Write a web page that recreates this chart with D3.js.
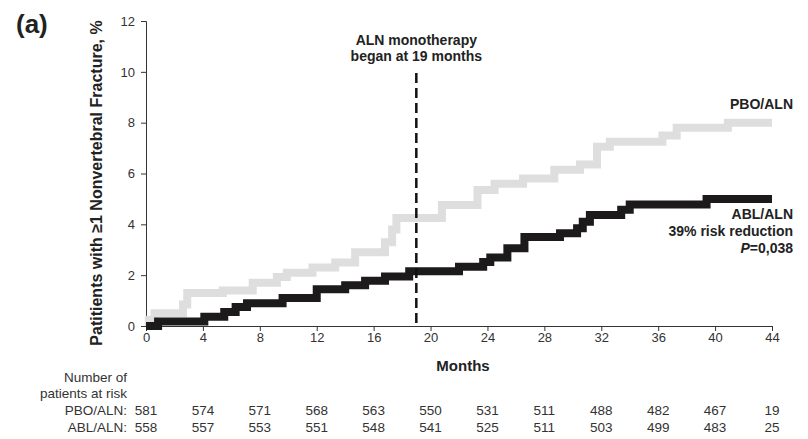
<!DOCTYPE html>
<html>
<head>
<meta charset="utf-8">
<script src="https://cdn.jsdelivr.net/npm/d3@7"></script>
<style>
  body { margin: 0; background: #fff; }
  svg { display: block; font-family: "Liberation Sans", Arial, sans-serif; }
</style>
</head>
<body>
<svg id="chart" width="808" height="439"></svg>
<script>
const width = 808;
const height = 439;

// step curves (month, %)
const pboMonths = [0, 0.2, 0.6, 2.6, 2.9, 5.4, 7.5, 9.2, 9.9, 11.7, 13.3, 14.7, 16.8, 17.3, 17.6, 20.8, 23.3, 24.5, 26.5, 28.7, 30.5, 31.7, 32.6, 36.3, 37.3, 40.9, 44];
const pboValues = [0, 0.25, 0.5, 0.85, 1.3, 1.4, 1.7, 1.93, 2.1, 2.3, 2.5, 2.9, 3.3, 3.8, 4.25, 4.76, 5.35, 5.6, 5.8, 6.15, 6.35, 7.05, 7.25, 7.5, 7.8, 8.0, 8.0];

const ablMonths = [0, 0.85, 4.1, 5.5, 6.3, 7.1, 9.6, 12.0, 14.0, 15.4, 16.8, 18.5, 22, 23.7, 24.2, 25.4, 26.6, 29.1, 30.3, 30.7, 31.2, 33.4, 34, 39.4, 44];
const ablValues = [0, 0.18, 0.36, 0.55, 0.75, 0.9, 1.1, 1.45, 1.6, 1.78, 1.95, 2.15, 2.33, 2.52, 2.7, 3.06, 3.5, 3.65, 3.85, 4.1, 4.37, 4.57, 4.78, 5.0, 5.0];

const xTicks = [0, 4, 8, 12, 16, 20, 24, 28, 32, 36, 40, 44];
const yTicks = [0, 2, 4, 6, 8, 10, 12];

// number at risk, one per x tick
const pboAtRisk = [581, 574, 571, 568, 563, 550, 531, 511, 488, 482, 467, 19];
const ablAtRisk = [558, 557, 553, 551, 548, 541, 525, 511, 503, 499, 483, 25];

const monoStart = 19;

const svg = d3.select("#chart");

const x = d3.scaleLinear().domain([0, 44]).range([146, 772]);
const y = d3.scaleLinear().domain([0, 12]).range([326, 21]);

const textCol = "#222";

// panel letter
svg.append("text")
  .attr("x", 16).attr("y", 33)
  .style("font-size", "26px").style("font-weight", "bold")
  .attr("fill", textCol)
  .text("(a)");

// axes
const yAxis = svg.append("g")
  .attr("transform", "translate(146,0)")
  .call(d3.axisLeft(y).tickValues(yTicks).tickSize(5).tickPadding(6));
const xAxis = svg.append("g")
  .attr("transform", "translate(0,326)")
  .call(d3.axisBottom(x).tickValues(xTicks).tickSize(5).tickPadding(2));

[xAxis, yAxis].forEach(g => {
  g.select(".domain").attr("stroke", "#333");
  g.selectAll(".tick line").attr("stroke", "#333");
  g.selectAll(".tick text")
    .attr("fill", "#333")
    .style("font-size", "13px")
    .style("font-family", "'Liberation Sans', Arial, sans-serif");
});

// axis titles
svg.append("text")
  .attr("transform", "translate(102,183) rotate(-90)")
  .attr("text-anchor", "middle")
  .style("font-size", "16px").style("font-weight", "bold")
  .attr("fill", textCol)
  .text("Patitients with ≥1 Nonvertebral Fracture, %");

svg.append("text")
  .attr("x", 463).attr("y", 371)
  .attr("text-anchor", "middle")
  .style("font-size", "15px").style("font-weight", "bold")
  .attr("fill", textCol)
  .text("Months");

// curves
const line = d3.line()
  .x(d => x(d[0]))
  .y(d => y(d[1]))
  .curve(d3.curveStepAfter);

const pboData = pboMonths.map((m, i) => [m, pboValues[i]]);
const ablData = ablMonths.map((m, i) => [m, ablValues[i]]);

svg.append("path")
  .datum(pboData)
  .attr("d", line)
  .attr("fill", "none")
  .attr("stroke", "#dddedd")
  .attr("stroke-width", 8);

svg.append("path")
  .datum(ablData)
  .attr("d", line)
  .attr("fill", "none")
  .attr("stroke", "#1c1a1a")
  .attr("stroke-width", 8);

// ALN monotherapy marker
svg.append("line")
  .attr("x1", x(monoStart)).attr("x2", x(monoStart))
  .attr("y1", 73).attr("y2", y(0))
  .attr("stroke", "#111")
  .attr("stroke-width", 2.5)
  .attr("stroke-dasharray", "10,5");

const note = svg.append("text")
  .attr("text-anchor", "middle")
  .style("font-size", "14px").style("font-weight", "bold")
  .attr("fill", textCol);
note.append("tspan").attr("x", x(monoStart)).attr("y", 45).text("ALN monotherapy");
note.append("tspan").attr("x", x(monoStart)).attr("y", 61).text("began at 19 months");

// series labels
svg.append("text")
  .attr("x", 793).attr("y", 109)
  .attr("text-anchor", "end")
  .style("font-size", "14px").style("font-weight", "bold")
  .attr("fill", textCol)
  .text("PBO/ALN");

const ablLab = svg.append("text")
  .attr("text-anchor", "end")
  .style("font-size", "14px").style("font-weight", "bold")
  .attr("fill", textCol);
ablLab.append("tspan").attr("x", 793).attr("y", 219).text("ABL/ALN");
ablLab.append("tspan").attr("x", 793).attr("y", 236).text("39% risk reduction");
const pLine = ablLab.append("tspan").attr("x", 793).attr("y", 253);
pLine.append("tspan").style("font-style", "italic").text("P");
pLine.append("tspan").text("=0,038");

// number at risk table
const tbl = svg.append("g")
  .style("font-size", "13.5px")
  .attr("fill", "#333");

tbl.append("text").attr("x", 127).attr("y", 382).attr("text-anchor", "end").text("Number of");
tbl.append("text").attr("x", 127).attr("y", 398).attr("text-anchor", "end").text("patients at risk");
tbl.append("text").attr("x", 127).attr("y", 415).attr("text-anchor", "end").text("PBO/ALN:");
tbl.append("text").attr("x", 127).attr("y", 432).attr("text-anchor", "end").text("ABL/ALN:");

tbl.selectAll(".pbo")
  .data(pboAtRisk)
  .join("text")
  .attr("class", "pbo")
  .attr("x", (d, i) => x(xTicks[i]))
  .attr("y", 415)
  .attr("text-anchor", "middle")
  .text(d => d);

tbl.selectAll(".abl")
  .data(ablAtRisk)
  .join("text")
  .attr("class", "abl")
  .attr("x", (d, i) => x(xTicks[i]))
  .attr("y", 432)
  .attr("text-anchor", "middle")
  .text(d => d);
</script>
</body>
</html>
